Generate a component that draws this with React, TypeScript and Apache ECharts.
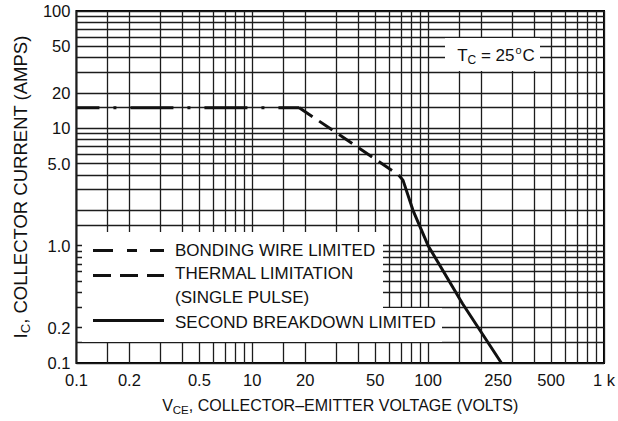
import React, { useEffect, useRef } from "react";
import * as echarts from "echarts";

// ---- data ----
const xTickValues = [1, 2, 5, 10, 20, 50, 100, 250, 500, 1000];
const xTickLabels = ["0.1", "0.2", "0.5", "10", "20", "50", "100", "250", "500", "1 k"];
const yTickValues = [0.1, 0.2, 1, 5, 10, 20, 50, 100];
const yTickLabels = ["0.1", "0.2", "1.0", "5.0", "10", "20", "50", "100"];

const gridMultipliers = [1, 1.5, 2, 3, 4, 5, 6, 7, 8, 9];
const xDecades = [1, 10, 100];
const xEnd = 1000;
const yDecades = [0.1, 1, 10];
const yEnd = 100;

const bondingWire: [number, number][] = [
  [1, 15],
  [18.5, 15],
];
const thermalLimit: [number, number][] = [
  [18.5, 15],
  [68, 4.0],
];
const secondBreakdown: [number, number][] = [
  [68, 4.0],
  [72, 3.6],
  [82, 2.0],
  [100, 1.0],
  [157, 0.32],
  [261, 0.1],
];

const legendNames = [
  "BONDING WIRE LIMITED",
  "THERMAL LIMITATION",
  "(SINGLE PULSE)",
  "SECOND BREAKDOWN LIMITED",
];

const FONT = '"Liberation Sans", Arial, Helvetica, sans-serif';
const INK = "#111111";

function lookup(values: number[], labels: string[], v: number): string {
  for (let i = 0; i < values.length; i++) {
    if (Math.abs(Math.log10(v) - Math.log10(values[i])) < 1e-6) return labels[i];
  }
  return "";
}

const xGridValues = xDecades.flatMap((d) => gridMultipliers.map((m) => d * m)).concat([xEnd]);
const yGridValues = yDecades.flatMap((d) => gridMultipliers.map((m) => d * m)).concat([yEnd]);

export default function App() {
  const ref = useRef<HTMLDivElement>(null);
  useEffect(() => {
    if (!ref.current) return;
    const chart = echarts.init(ref.current, undefined, { renderer: "svg" });
    const richMain = { fontFamily: FONT, color: INK };
    const option: any = {
      animation: false,
      backgroundColor: "#ffffff",
      grid: {
        left: 66,
        right: 14,
        top: 11,
        bottom: 58,
        show: true,
        borderColor: "#000",
        borderWidth: 2,
        backgroundColor: "transparent",
      },
      xAxis: {
        type: "log",
        logBase: 10,
        min: 1,
        max: 1000,
        axisLine: { show: false },
        axisTick: { show: false, customValues: xGridValues },
        splitLine: { show: true, lineStyle: { color: "#1c1c1c", width: 1.3 } },
        minorSplitLine: { show: false },
        axisLabel: {
          customValues: xTickValues,
          formatter: (v: number) => lookup(xTickValues, xTickLabels, v),
          color: INK,
          fontFamily: FONT,
          fontSize: 16.5,
          margin: 8,
        },
        name: "{a|V}{s|CE}{a|, COLLECTOR–EMITTER VOLTAGE (VOLTS)}",
        nameLocation: "middle",
        nameGap: 33,
        nameTextStyle: {
          fontFamily: FONT,
          fontSize: 16,
          color: INK,
          rich: {
            a: { ...richMain, fontSize: 16, lineHeight: 18 },
            s: { ...richMain, fontSize: 11.5, lineHeight: 18, padding: [10, 0, 0, 0] },
          },
        },
      },
      yAxis: {
        type: "log",
        logBase: 10,
        min: 0.1,
        max: 100,
        axisLine: { show: false },
        axisTick: { show: false, customValues: yGridValues },
        splitLine: { show: true, lineStyle: { color: "#1c1c1c", width: 1.3 } },
        axisLabel: {
          customValues: yTickValues,
          formatter: (v: number) => lookup(yTickValues, yTickLabels, v),
          color: INK,
          fontFamily: FONT,
          fontSize: 16.5,
          margin: 6,
        },
        name: "{a|I}{s|C}{a|, COLLECTOR CURRENT (AMPS)}",
        nameLocation: "middle",
        nameGap: 28,
        nameTextStyle: {
          fontFamily: FONT,
          fontSize: 18.5,
          color: INK,
          rich: {
            a: { ...richMain, fontSize: 18.5, lineHeight: 20 },
            s: { ...richMain, fontSize: 13, lineHeight: 20, padding: [11, 0, 0, 0] },
          },
        },
      },
      series: [
        {
          name: legendNames[0],
          type: "line",
          data: bondingWire,
          symbol: "none",
          z: 3,
          lineStyle: { color: INK, width: 3, type: [43, 14, 3, 14], dashOffset: 20 },
        },
        {
          name: legendNames[1],
          type: "line",
          data: thermalLimit,
          symbol: "none",
          z: 3,
          lineStyle: { color: INK, width: 3, type: [16, 8] },
        },
        {
          name: legendNames[3],
          type: "line",
          data: secondBreakdown,
          symbol: "none",
          z: 3,
          lineStyle: { color: INK, width: 3, type: "solid", join: "round" },
        },
      ],
      graphic: [
        // legend background
        { type: "rect", z: 1, shape: { x: 82, y: 232, width: 301, height: 110 }, style: { fill: "#fff" } },
        { type: "rect", z: 1, shape: { x: 383, y: 308, width: 59, height: 34 }, style: { fill: "#fff" } },
        // Tc box
        { type: "rect", z: 1, shape: { x: 445, y: 38, width: 95, height: 33 }, style: { fill: "#fff" } },
        {
          type: "text",
          z: 2,
          style: {
            x: 496,
            y: 55,
            text: "{a|T}{s|C}{a| = 25}{p|o}{a|C}",
            align: "center",
            textAlign: "center",
            verticalAlign: "middle",
            textVerticalAlign: "middle",
            rich: {
              a: { fontFamily: FONT, fontSize: 17, lineHeight: 19, fill: INK, color: INK },
              s: { fontFamily: FONT, fontSize: 12, lineHeight: 19, padding: [10, 0, 0, 0], fill: INK, color: INK },
              p: { fontFamily: FONT, fontSize: 11, lineHeight: 19, padding: [0, 1, 10, 1], fill: INK, color: INK },
            },
          },
        },
        // legend icons
        {
          type: "line",
          z: 2,
          shape: { x1: 93, y1: 250.5, x2: 164, y2: 250.5 },
          style: { stroke: INK, lineWidth: 3, lineDash: [20, 14, 10, 13] },
        },
        {
          type: "line",
          z: 2,
          shape: { x1: 93, y1: 275.5, x2: 164, y2: 275.5 },
          style: { stroke: INK, lineWidth: 3, lineDash: [18, 9] },
        },
        {
          type: "line",
          z: 2,
          shape: { x1: 93, y1: 320.5, x2: 164, y2: 320.5 },
          style: { stroke: INK, lineWidth: 3 },
        },
        ...legendNames.map((t, i) => ({
          type: "text",
          z: 2,
          style: {
            x: 175,
            y: [250, 273.5, 297.5, 322][i],
            text: t,
            font: `17px ${FONT}`,
            fill: INK,
            align: "left",
            textAlign: "left",
            verticalAlign: "middle",
            textVerticalAlign: "middle",
          },
        })),
      ],
    };
    chart.setOption(option);
    return () => chart.dispose();
  }, []);
  return (
    <div
      ref={ref}
      style={{ position: "fixed", left: 0, top: 0, width: 618, height: 421, background: "#fff" }}
    />
  );
}
